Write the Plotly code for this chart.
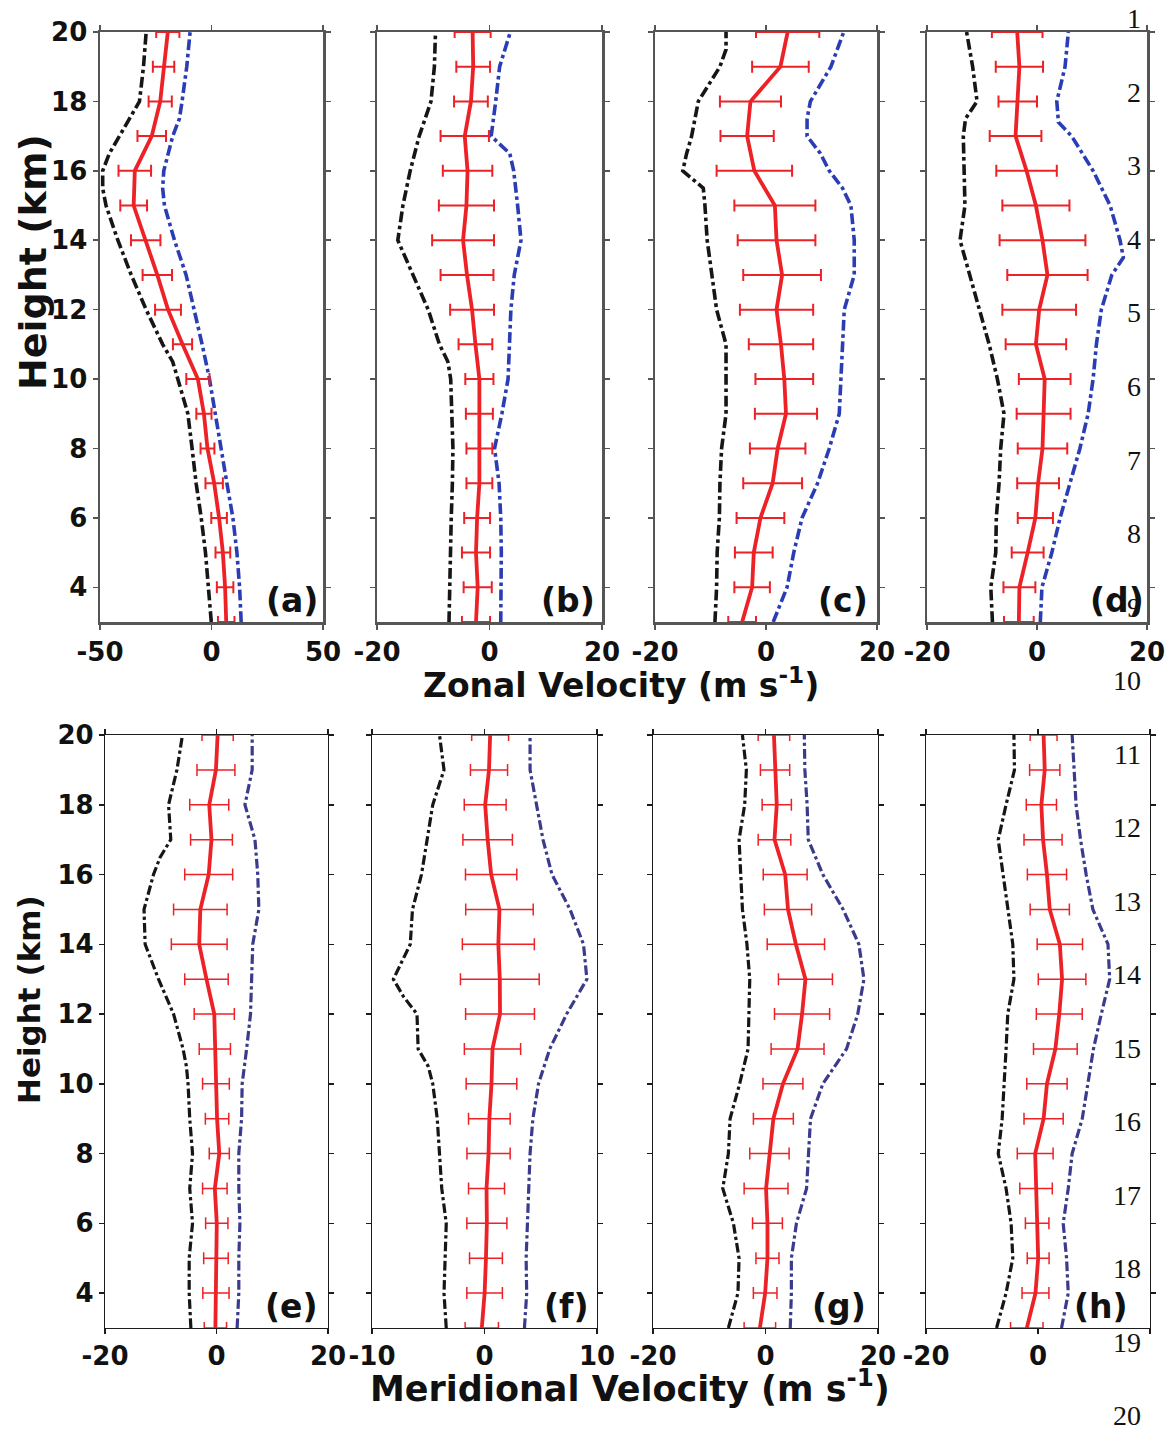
import plotly.graph_objects as go

# ---------------- data ----------------
HEIGHTS = [3, 4, 5, 6, 7, 8, 9, 10, 11, 12, 13, 14, 15, 16, 17, 18, 19, 20]

# (a) zonal
A_MEAN = [6.6, 6.1, 5.1, 3.4, 1.2, -1.8, -3.4, -6.1, -13.0, -19.5, -24.3, -29.5, -34.9, -34.4, -26.8, -23.0, -21.5, -19.6]
A_ERR = [3.7, 3.7, 3.3, 3.5, 3.9, 3.1, 3.4, 5.2, 4.3, 5.8, 6.6, 6.6, 6.0, 7.3, 6.4, 5.2, 4.8, 5.2]
A_LOW_H = [3, 4, 5, 6, 7, 8, 9, 10, 10.5, 11, 12, 13, 14, 15, 15.5, 16, 16.5, 17, 17.5, 18, 19, 20]
A_LOW = [-0.1, -1.2, -2.7, -4.6, -6.9, -8.7, -10.6, -15.1, -17.4, -21.9, -29.3, -36.0, -42.0, -47.3, -48.8, -48.8, -45.8, -41.3, -36.8, -32.3, -30.5, -29.3]
A_HIGH_H = [3, 4, 5, 6, 7, 8, 9, 10, 11, 12, 13, 14, 15, 15.5, 16, 17, 17.5, 18, 19, 20]
A_HIGH = [13.3, 12.6, 11.4, 9.6, 6.9, 4.3, 2.1, -0.9, -4.2, -7.6, -11.4, -16.6, -21.1, -21.9, -21.4, -17.4, -14.4, -13.2, -11.1, -9.6]

# (b) zonal
B_MEAN = [-2.4, -2.1, -2.4, -2.2, -1.8, -1.8, -1.8, -1.8, -2.5, -3.1, -4.0, -4.7, -4.1, -3.9, -4.4, -3.3, -2.9, -3.0]
B_ERR = [2.5, 2.5, 2.5, 2.3, 2.3, 2.3, 2.4, 2.5, 3.0, 3.9, 4.7, 5.5, 4.9, 4.4, 4.3, 3.0, 3.0, 3.2]
B_LOW_H = [3, 4, 5, 6, 7, 8, 9, 10, 10.5, 11, 12, 13, 14, 15, 16, 17, 17.5, 18, 19, 20]
B_LOW = [-7.2, -7.1, -7.0, -6.8, -6.6, -6.5, -6.7, -6.9, -7.4, -8.9, -10.9, -13.6, -16.3, -15.4, -14.1, -12.5, -11.4, -10.4, -9.8, -9.6]
B_HIGH_H = [3, 4, 5, 6, 7, 8, 9, 10, 11, 12, 13, 14, 15, 16, 16.5, 17, 18, 19, 20]
B_HIGH = [2.0, 2.1, 2.1, 2.0, 1.7, 0.9, 2.2, 3.3, 3.6, 3.8, 4.4, 5.6, 5.0, 4.3, 3.6, 0.3, 1.1, 1.8, 3.7]

# (c) zonal
C_MEAN = [-4.3, -2.5, -2.2, -1.0, 1.2, 2.1, 3.6, 3.3, 2.7, 1.9, 2.9, 1.9, 1.6, -2.1, -3.4, -2.8, 2.6, 3.9]
C_ERR = [2.5, 3.2, 3.4, 4.3, 5.3, 5.0, 5.6, 5.2, 5.8, 6.6, 7.0, 7.0, 7.3, 6.8, 4.8, 5.5, 5.1, 5.7]
C_LOW_H = [3, 4, 5, 6, 7, 8, 9, 10, 11, 12, 13, 14, 15, 15.5, 16, 16.5, 17, 18, 19, 19.5, 20]
C_LOW = [-9.2, -8.9, -8.8, -8.4, -8.3, -8.0, -7.2, -7.2, -7.2, -8.9, -9.8, -10.6, -11.0, -11.3, -15.0, -14.3, -13.4, -12.2, -8.3, -7.2, -7.2]
C_HIGH_H = [3, 4, 5, 6, 7, 8, 9, 10, 11, 12, 13, 14, 15, 15.5, 16, 16.5, 17, 17.5, 18, 19, 20]
C_HIGH = [1.3, 3.8, 5.0, 6.5, 9.3, 11.4, 13.2, 13.5, 13.8, 14.1, 15.9, 15.9, 15.3, 13.8, 11.4, 9.8, 7.4, 7.4, 8.0, 11.7, 14.0]

# (d) zonal
D_MEAN = [-3.3, -3.2, -1.7, -0.3, 0.2, 1.0, 1.2, 1.4, -0.2, 0.4, 1.9, 1.0, -0.2, -1.9, -3.9, -3.5, -3.2, -3.6]
D_ERR = [2.7, 2.9, 2.9, 3.2, 3.8, 4.5, 4.9, 4.7, 5.5, 6.7, 7.3, 7.8, 6.1, 5.5, 4.7, 3.5, 4.3, 4.6]
D_LOW_H = [3, 4, 5, 6, 7, 8, 9, 10, 11, 12, 13, 14, 15, 16, 17, 17.5, 18, 19, 20]
D_LOW = [-8.1, -8.4, -7.5, -7.4, -6.9, -6.6, -6.0, -7.2, -8.7, -10.5, -12.3, -14.0, -13.1, -13.3, -13.4, -13.0, -10.9, -11.7, -12.8]
D_HIGH_H = [3, 4, 5, 6, 7, 8, 9, 10, 11, 12, 13, 13.5, 14, 15, 16, 17, 17.4, 18, 19, 20]
D_HIGH = [0.6, 0.9, 2.7, 4.2, 6.0, 7.8, 9.3, 10.2, 10.8, 11.7, 13.6, 15.7, 15.1, 13.3, 10.2, 6.3, 3.9, 3.6, 5.1, 5.7]

# (e) meridional
E_MEAN = [-0.2, -0.1, -0.1, 0.05, -0.3, 0.5, 0.1, -0.1, -0.3, -0.4, -1.8, -3.1, -2.9, -1.4, -0.9, -1.3, -0.1, 0.2]
E_ERR = [2.0, 2.35, 2.2, 2.0, 2.2, 1.8, 2.1, 2.4, 2.8, 3.6, 3.9, 5.0, 4.8, 4.3, 3.75, 3.5, 3.4, 2.8]
E_LOW_H = [3, 4, 5, 6, 7, 8, 9, 10, 10.5, 11, 12, 13, 14, 15, 16, 16.5, 17, 18, 19, 20]
E_LOW = [-4.6, -4.9, -4.9, -4.3, -4.8, -4.3, -4.8, -5.1, -5.4, -6.0, -7.7, -10.4, -12.8, -13.0, -11.3, -10.1, -8.2, -8.6, -7.1, -6.1]
E_HIGH_H = [3, 4, 5, 6, 7, 8, 9, 10, 11, 12, 13, 14, 15, 16, 17, 18, 19, 20]
E_HIGH = [3.7, 4.0, 4.0, 4.2, 4.0, 4.0, 4.5, 4.6, 5.4, 6.1, 6.3, 6.5, 7.6, 7.4, 6.9, 5.1, 6.4, 6.4]

# (f) meridional
F_MEAN = [-0.24, 0.01, 0.13, 0.21, 0.18, 0.36, 0.43, 0.62, 0.71, 1.38, 1.36, 1.23, 1.33, 0.59, 0.28, 0.06, 0.4, 0.5]
F_ERR = [1.48, 1.58, 1.46, 1.78, 1.6, 1.92, 1.85, 2.25, 2.5, 3.06, 3.5, 3.2, 3.0, 2.28, 2.2, 1.86, 1.65, 1.64]
F_LOW_H = [3, 4, 5, 6, 7, 8, 9, 10, 10.5, 11, 12, 12.5, 13, 14, 15, 16, 17, 18, 19, 20]
F_LOW = [-3.4, -3.6, -3.5, -3.4, -3.8, -4.0, -4.2, -4.6, -5.0, -5.9, -6.0, -7.2, -8.1, -6.6, -6.4, -5.6, -5.1, -4.6, -3.6, -4.0]
F_HIGH_H = [3, 4, 5, 6, 7, 8, 9, 10, 11, 12, 13, 14, 15, 16, 17, 18, 19, 20]
F_HIGH = [3.55, 3.75, 3.7, 3.8, 3.9, 4.05, 4.3, 4.8, 5.8, 7.3, 9.1, 8.8, 7.6, 6.0, 5.2, 4.6, 4.05, 4.05]

# (g) meridional
G_MEAN = [-1.0, -0.06, 0.35, 0.35, 0.1, 0.7, 1.4, 3.1, 5.7, 6.5, 7.1, 5.4, 4.0, 3.5, 1.6, 2.0, 1.7, 1.5]
G_ERR = [2.8, 2.1, 2.05, 2.65, 3.9, 3.5, 3.55, 3.55, 4.7, 4.9, 4.8, 5.1, 4.2, 3.9, 2.9, 2.6, 2.6, 2.8]
G_LOW_H = HEIGHTS
G_LOW = [-6.6, -4.9, -4.7, -5.7, -7.6, -6.6, -6.3, -4.6, -3.1, -2.9, -2.8, -3.3, -4.1, -4.4, -4.7, -3.7, -3.4, -4.1]
G_HIGH_H = HEIGHTS
G_HIGH = [4.4, 4.6, 4.6, 5.5, 7.3, 7.6, 8.0, 10.2, 14.4, 16.4, 17.5, 16.6, 13.8, 10.2, 7.6, 7.4, 7.0, 6.9]

# (h) meridional
H_MEAN = [-2.0, -0.45, 0.03, -0.15, -0.35, -0.5, 1.0, 1.6, 3.1, 3.8, 4.3, 3.9, 2.1, 1.6, 0.9, 0.6, 1.2, 1.0]
H_ERR = [2.9, 2.4, 1.95, 2.1, 2.9, 3.2, 3.5, 3.6, 3.9, 4.1, 4.25, 4.05, 3.5, 3.5, 3.4, 2.7, 2.7, 2.4]
H_LOW_H = HEIGHTS
H_LOW = [-7.4, -5.7, -4.5, -4.8, -5.7, -7.1, -6.4, -6.0, -5.7, -5.4, -4.3, -4.5, -5.4, -6.3, -7.1, -5.7, -4.2, -4.3]
H_HIGH_H = HEIGHTS
H_HIGH = [4.2, 5.4, 5.1, 4.5, 5.4, 6.1, 7.9, 8.9, 9.9, 11.3, 12.8, 12.5, 9.8, 8.6, 7.6, 6.8, 6.5, 6.1]

PANEL_LABELS = ["(a)", "(b)", "(c)", "(d)", "(e)", "(f)", "(g)", "(h)"]
X_LIMITS = [50, 20, 20, 20, 20, 10, 20, 20]
Y_TICKS = [4, 6, 8, 10, 12, 14, 16, 18, 20]
LINE_NUMBERS = ["1", "2", "3", "4", "5", "6", "7", "8", "9", "10",
                "11", "12", "13", "14", "15", "16", "17", "18", "19", "20"]

PANELS = [
    (A_MEAN, A_ERR, A_LOW_H, A_LOW, A_HIGH_H, A_HIGH),
    (B_MEAN, B_ERR, B_LOW_H, B_LOW, B_HIGH_H, B_HIGH),
    (C_MEAN, C_ERR, C_LOW_H, C_LOW, C_HIGH_H, C_HIGH),
    (D_MEAN, D_ERR, D_LOW_H, D_LOW, D_HIGH_H, D_HIGH),
    (E_MEAN, E_ERR, E_LOW_H, E_LOW, E_HIGH_H, E_HIGH),
    (F_MEAN, F_ERR, F_LOW_H, F_LOW, F_HIGH_H, F_HIGH),
    (G_MEAN, G_ERR, G_LOW_H, G_LOW, G_HIGH_H, G_HIGH),
    (H_MEAN, H_ERR, H_LOW_H, H_LOW, H_HIGH_H, H_HIGH),
]

# ---------------- layout geometry (page pixels) ----------------
W, H = 1168, 1435


def px(x):
    return x / W


def py(y):
    return 1 - y / H


X_PIX = [(100, 323), (377, 602), (655, 877), (927, 1147),
         (105, 328), (372, 597), (653, 878), (926, 1150)]
ROW_PIX = [(32, 622), (735, 1328)]
LABEL_RIGHT = [320, 597, 870, 1146, 320, 591, 868, 1130]

RED = "#ec2227"
BLACK = "#161616"
BLUES = ["#2b3db5", "#3b3b8e"]
FRAME = ["#555555", "#1c1c1c"]
FRAME_W = [2.5, 1.2]
TICKFONT = dict(family="DejaVu Sans", size=26, color="#111111", weight="bold")

fig = go.Figure()
annotations = []

for i, (mean, err, lh, low, hh, high) in enumerate(PANELS):
    row = 0 if i < 4 else 1
    n = i + 1
    xa = "x" if n == 1 else f"x{n}"
    ya = "y" if n == 1 else f"y{n}"
    lw = 3.6 if row == 0 else 3.2
    fig.add_trace(go.Scatter(x=low, y=lh, mode="lines", xaxis=xa, yaxis=ya,
                             line=dict(color=BLACK, width=lw, dash="dashdot"),
                             showlegend=False, hoverinfo="skip"))
    fig.add_trace(go.Scatter(x=high, y=hh, mode="lines", xaxis=xa, yaxis=ya,
                             line=dict(color=BLUES[row], width=lw, dash="dashdot"),
                             showlegend=False, hoverinfo="skip"))
    fig.add_trace(go.Scatter(x=mean, y=HEIGHTS, mode="lines", xaxis=xa, yaxis=ya,
                             line=dict(color=RED, width=3.8),
                             error_x=dict(type="data", array=err, visible=True,
                                          color=RED, thickness=2.0 if row == 0 else 1.5,
                                          width=6),
                             showlegend=False, hoverinfo="skip"))

    L = X_LIMITS[i]
    x0, x1 = X_PIX[i]
    yt, yb = ROW_PIX[row]
    xkey = "xaxis" if n == 1 else f"xaxis{n}"
    ykey = "yaxis" if n == 1 else f"yaxis{n}"
    axis_common = dict(showline=True, linecolor=FRAME[row], linewidth=FRAME_W[row],
                       mirror="ticks", ticks="outside", ticklen=5,
                       tickcolor=FRAME[row], tickwidth=1.5, automargin=False,
                       showgrid=False, zeroline=False, tickfont=TICKFONT)
    fig.update_layout({
        xkey: dict(domain=[px(x0), px(x1)], range=[-L, L], anchor=ya,
                   tickmode="array", tickvals=[-L, 0, L],
                   ticktext=[f"-{L}", "0", f"{L}"], **axis_common),
        ykey: dict(domain=[py(yb), py(yt)], range=[3, 20], anchor=xa,
                   tickmode="array", tickvals=Y_TICKS,
                   ticktext=[str(v) for v in Y_TICKS],
                   showticklabels=(i % 4 == 0), **axis_common),
    })
    annotations.append(dict(text=f"<b>{PANEL_LABELS[i]}</b>", xref="paper", yref="paper",
                            x=px(LABEL_RIGHT[i]), y=py(yb - 22),
                            xanchor="right", yanchor="middle", showarrow=False,
                            font=dict(family="DejaVu Sans", size=33, color="#111111")))

# axis titles
annotations += [
    dict(text="<b>Zonal Velocity (m s<sup>-1</sup>)</b>", xref="paper", yref="paper",
         x=px(621), y=py(684), xanchor="center", yanchor="middle", showarrow=False,
         font=dict(family="DejaVu Sans", size=33, color="#111111")),
    dict(text="<b>Meridional Velocity (m s<sup>-1</sup>)</b>", xref="paper", yref="paper",
         x=px(630), y=py(1386), xanchor="center", yanchor="middle", showarrow=False,
         font=dict(family="DejaVu Sans", size=35, color="#111111")),
    dict(text="<b>Height (km)</b>", xref="paper", yref="paper", textangle=-90,
         x=px(33), y=py(262), xanchor="center", yanchor="middle", showarrow=False,
         font=dict(family="DejaVu Sans", size=38, color="#111111")),
    dict(text="<b>Height (km)</b>", xref="paper", yref="paper", textangle=-90,
         x=px(29), y=py(1000), xanchor="center", yanchor="middle", showarrow=False,
         font=dict(family="DejaVu Sans", size=31, color="#111111")),
]

# document line numbers on the right
for k, txt in enumerate(LINE_NUMBERS):
    yc = 19 + k * 73.5
    annotations.append(dict(text=txt, xref="paper", yref="paper",
                            x=px(1143), y=py(yc), xanchor="right", yanchor="middle",
                            showarrow=False,
                            font=dict(family="Liberation Serif", size=28, color="#111111")))

fig.update_layout(width=W, height=H, autosize=False,
                  margin=dict(l=0, r=0, t=0, b=0, autoexpand=False),
                  paper_bgcolor="white", plot_bgcolor="white",
                  annotations=annotations, showlegend=False, hovermode=False)

fig.write_html("out.html",
               config={"displayModeBar": False, "staticPlot": True},
               post_script="document.body.style.margin='0px';"
                           "document.body.style.overflow='hidden';")
